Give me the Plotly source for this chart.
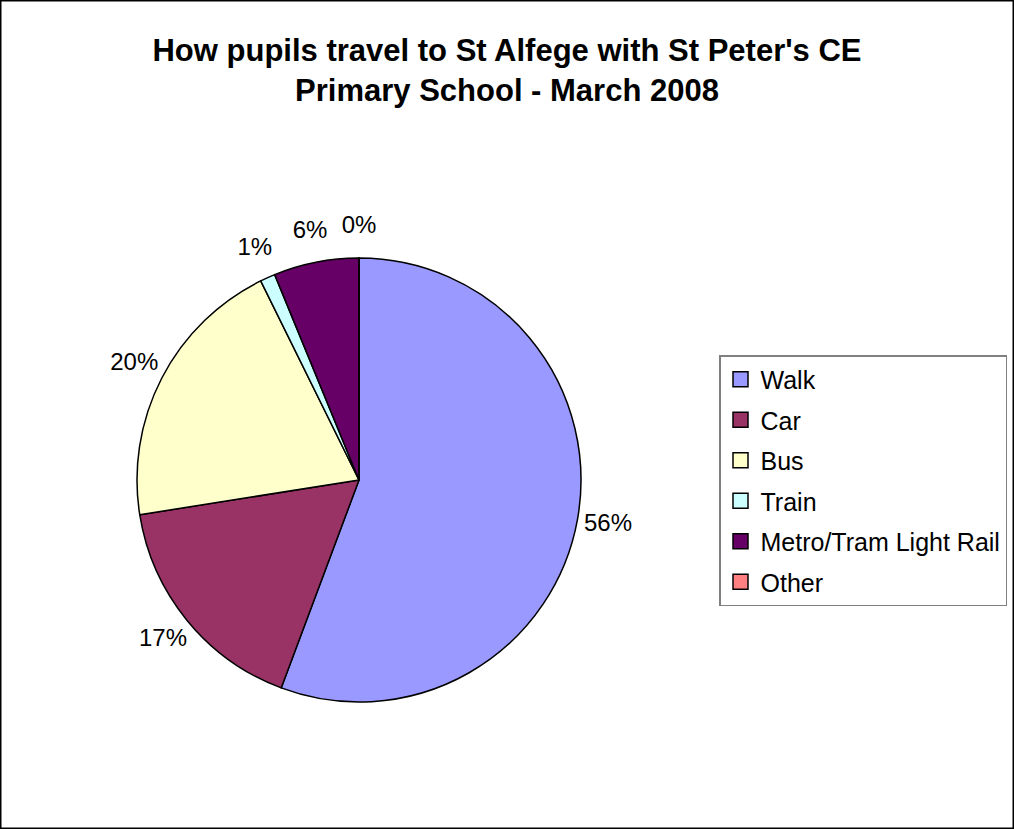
import numpy as np
import plotly.graph_objects as go

categories = ["Walk", "Car", "Bus", "Train", "Metro/Tram Light Rail", "Other"]
shares = [55.7, 16.8, 20.2, 1.1, 6.2, 0.0]
colors = ["#9999FF", "#993366", "#FFFFCC", "#CCFFFF", "#660066", "#FF8080"]

W, H = 1014, 829
FONT = "Arial, Liberation Sans, sans-serif"
CX, CY, R = 359, 480, 222          # pie centre / radius in pixels
RP = R * 1.3                        # polar overlay radius (pixels)

fig = go.Figure()
fig.add_trace(go.Pie(
    labels=categories, values=shares, sort=False, direction="clockwise",
    rotation=0,
    marker=dict(colors=colors, line=dict(color="black", width=1.5)),
    textinfo="none",
    showlegend=False, hoverinfo="label+percent",
    domain=dict(x=[(CX - R) / W, (CX + R) / W], y=[(H - CY - R) / H, (H - CY + R) / H]),
))

# percentage labels placed around the pie on a matching polar subplot
vals = np.array(shares, dtype=float)
total = vals.sum()
mid_deg = (np.cumsum(vals) - vals / 2) / total * 360
pct_text = [f"{round(v / total * 100):.0f}%" for v in vals]
fig.add_trace(go.Scatterpolar(
    r=[1.14] * len(vals), theta=mid_deg, mode="text", text=pct_text,
    textfont=dict(family=FONT, size=24, color="black"),
    showlegend=False, hoverinfo="skip", cliponaxis=False, subplot="polar",
))

for c, col in zip(categories, colors):
    fig.add_trace(go.Scatter(
        x=[None], y=[None], mode="markers", name=c, legendgroup=c,
        marker=dict(symbol="square", size=15, color=col, line=dict(color="black", width=1.5)),
    ))

fig.update_layout(
    width=W, height=H, margin=dict(l=0, r=0, t=0, b=0),
    paper_bgcolor="white", plot_bgcolor="white",
    xaxis=dict(visible=False), yaxis=dict(visible=False),
    polar=dict(
        domain=dict(x=[(CX - RP) / W, (CX + RP) / W], y=[(H - CY - RP) / H, (H - CY + RP) / H]),
        bgcolor="rgba(0,0,0,0)",
        radialaxis=dict(visible=False, range=[0, 1.3]),
        angularaxis=dict(visible=False, rotation=90, direction="clockwise"),
    ),
    title=dict(text="<b>How pupils travel to St Alfege with St Peter's CE<br>Primary School - March 2008</b>",
               x=0.5, xanchor="center", y=1 - 61 / H, yanchor="middle",
               font=dict(family=FONT, size=31, color="black")),
    font=dict(family=FONT, color="black"),
    legend=dict(x=719 / W, y=1 - 355 / H, xanchor="left", yanchor="top",
                bordercolor="#808080", borderwidth=1.5, bgcolor="white",
                font=dict(size=25), tracegroupgap=5, itemwidth=30),
    shapes=[dict(type="rect", xref="paper", yref="paper", x0=0, y0=0, x1=1, y1=1,
                 line=dict(color="black", width=3))],
)
fig.write_html("out.html", config={"displayModeBar": False},
               post_script="document.body.style.margin='0';document.body.style.overflow='hidden';")
